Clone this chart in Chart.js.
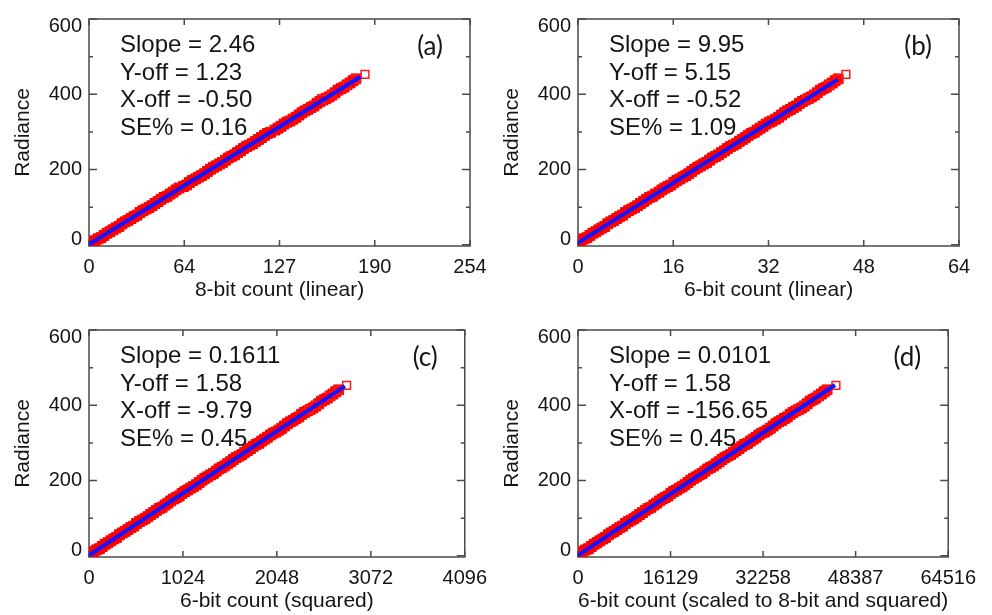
<!DOCTYPE html>
<html>
<head>
<meta charset="utf-8">
<script src="https://cdn.jsdelivr.net/npm/chart.js@4.4.1/dist/chart.umd.min.js"></script>
<style>
  html, body { margin: 0; padding: 0; background: #fff; }
  #wrap { position: relative; width: 992px; height: 615px; overflow: hidden; }
  .panel { position: absolute; width: 496px; height: 304px; }
</style>
</head>
<body>
<div id="wrap">
  <div class="panel" style="left:0;top:0"><canvas id="chartA" width="496" height="304"></canvas></div>
  <div class="panel" style="left:489px;top:0"><canvas id="chartB" width="496" height="304"></canvas></div>
  <div class="panel" style="left:0;top:311px"><canvas id="chartC" width="496" height="304"></canvas></div>
  <div class="panel" style="left:489px;top:311px"><canvas id="chartD" width="496" height="304"></canvas></div>
</div>
<script>
  // radiance of the sampled points (same for every panel)
  const radiance = [2, 11, 19, 31, 40, 49, 61, 70, 79, 91, 99, 110, 121, 129, 140, 151, 159, 171, 180, 189,
    201, 210, 219, 231, 239, 250, 261, 269, 280, 291, 299, 310, 321, 329, 339, 351, 360, 369, 381, 389,
    398, 411, 419, 430, 441];
  const radianceMid = [7, 16, 25, 35, 45, 56, 65, 75, 86, 95, 104, 115, 126, 135, 146, 155, 166, 175, 184, 195,
    206, 215, 225, 235, 245, 256, 265, 275, 285, 296, 305, 315, 326, 334, 345, 356, 365, 376, 385, 393,
    404, 415, 425, 436];
  const tailRadiance = [388, 400, 425, 440, 453];

  // counts per panel
  const countsA = [0, 4, 8, 12, 16, 20, 24, 28, 32, 36, 40, 44, 48, 52, 56, 60, 65, 69, 73, 77, 81, 85, 89, 93,
    97, 101, 105, 109, 113, 117, 121, 126, 130, 134, 138, 142, 146, 150, 154, 158, 162, 166, 170, 174, 178];
  const countsMidA = [2, 6, 10, 14, 18, 22, 26, 30, 34, 38, 42, 46, 50, 54, 58, 63, 67, 71, 75, 79, 83, 87, 91,
    95, 99, 103, 107, 111, 115, 119, 124, 128, 132, 136, 140, 144, 148, 152, 156, 160, 164, 168, 172, 176];
  const countsB = [0, 0.5, 1.5, 2.5, 3.5, 4.5, 5.5, 6.5, 7.5, 8.5, 9.5, 10.5, 11.5, 12.5, 13.6, 14.6, 15.6,
    16.6, 17.6, 18.6, 19.6, 20.6, 21.6, 22.6, 23.6, 24.6, 25.6, 26.6, 27.6, 28.6, 29.6, 30.6, 31.6, 32.6,
    33.7, 34.7, 35.7, 36.7, 37.7, 38.7, 39.7, 40.7, 41.7, 42.7, 43.7];
  const countsMidB = [0, 1, 2, 3, 4, 5, 6, 7, 8, 9, 10, 11, 12, 13, 14.1, 15.1, 16.1, 17.1, 18.1, 19.1, 20.1,
    21.1, 22.1, 23.1, 24.1, 25.1, 26.1, 27.1, 28.1, 29.1, 30.1, 31.1, 32.2, 33.2, 34.2, 35.2, 36.2, 37.2,
    38.2, 39.2, 40.2, 41.2, 42.2, 43.2];
  const countsC = [0, 52, 114, 176, 239, 301, 363, 425, 487, 549, 611, 673, 735, 797, 859, 921, 983, 1045,
    1107, 1170, 1232, 1294, 1356, 1418, 1480, 1542, 1604, 1666, 1728, 1790, 1852, 1914, 1977, 2039, 2101,
    2163, 2225, 2287, 2349, 2411, 2473, 2535, 2597, 2659, 2721];
  const countsMidC = [21, 83, 145, 207, 270, 332, 394, 456, 518, 580, 642, 704, 766, 828, 890, 952, 1014, 1076,
    1138, 1201, 1263, 1325, 1387, 1449, 1511, 1573, 1635, 1697, 1759, 1821, 1883, 1945, 2008, 2070, 2132,
    2194, 2256, 2318, 2380, 2442, 2504, 2566, 2628, 2690];
  const countsD = [0, 834, 1824, 2814, 3804, 4794, 5784, 6774, 7764, 8755, 9745, 10735, 11725, 12715, 13705,
    14695, 15685, 16675, 17666, 18656, 19646, 20636, 21626, 22616, 23606, 24596, 25586, 26576, 27567, 28557,
    29547, 30537, 31527, 32517, 33507, 34497, 35487, 36478, 37468, 38458, 39448, 40438, 41428, 42418, 43408];
  const countsMidD = [339, 1329, 2319, 3309, 4299, 5289, 6279, 7270, 8260, 9250, 10240, 11230, 12220, 13210,
    14200, 15190, 16180, 17171, 18161, 19151, 20141, 21131, 22121, 23111, 24101, 25091, 26081, 27071, 28062,
    29052, 30042, 31032, 32022, 33012, 34002, 34992, 35982, 36973, 37963, 38953, 39943, 40933, 41923, 42913];
  const tailA = [155, 162, 172, 178, 184];
  const tailB = [38.5, 39.7, 42.2, 43.7, 45.0];
  const tailC = [2399, 2473, 2628, 2721, 2808];
  const tailD = [38260, 39448, 41923, 43408, 44950];

  // fitted lines (end points)
  const fitA = { x: [0, 181], y: [1.23, 446.5] };
  const fitB = { x: [0, 43.6], y: [5.15, 439] };
  const fitC = { x: [0, 2790], y: [1.58, 451] };
  const fitD = { x: [0, 44800], y: [1.58, 454] };

  // axis ticks
  const yTicks = [0, 200, 400, 600];
  const yMinorTicks = [100, 300, 500];
  const xTicksA = [0, 63.5, 127, 190.5, 254];
  const xLabelsA = ['0', '64', '127', '190', '254'];
  const xTicksB = [0, 16, 32, 48, 64];
  const xLabelsB = ['0', '16', '32', '48', '64'];
  const xTicksC = [0, 1024, 2048, 3072, 4096];
  const xLabelsC = ['0', '1024', '2048', '3072', '4096'];
  const xTicksD = [0, 16129, 32258, 48387, 64516];
  const xLabelsD = ['0', '16129', '32258', '48387', '64516'];

  const statsA = ['Slope = 2.46', 'Y-off = 1.23', 'X-off = -0.50', 'SE% = 0.16'];
  const statsB = ['Slope = 9.95', 'Y-off = 5.15', 'X-off = -0.52', 'SE% = 1.09'];
  const statsC = ['Slope = 0.1611', 'Y-off = 1.58', 'X-off = -9.79', 'SE% = 0.45'];
  const statsD = ['Slope = 0.0101', 'Y-off = 1.58', 'X-off = -156.65', 'SE% = 0.45'];

  const TEXT = '#151515';
  const AXIS = '#4a4a4a';
  const RED = '#ff0000';
  const SANS = '"Liberation Sans", Arial, sans-serif';

  function pairs(xs, ys) {
    return xs.map((x, i) => ({ x: x, y: ys[i] }));
  }

  function makePanel(id, o) {
    const panelPlugin = {
      id: 'panel_' + id,
      beforeDraw(chart) {
        // IDL keeps the end labels of the y axis inside the frame
        const items = chart.scales.y.getLabelItems();
        if (items && items.length) {
          items[0].options.translation[1] -= 5;
          items[items.length - 1].options.translation[1] += 7;
        }
      },
      beforeDatasetsDraw(chart) {
        const { ctx, chartArea: a, scales: { x, y } } = chart;
        ctx.save();
        ctx.strokeStyle = AXIS;
        ctx.lineWidth = 1.5;
        ctx.strokeRect(a.left, a.top, a.right - a.left, a.bottom - a.top);
        ctx.beginPath();
        yTicks.forEach(v => {
          const py = y.getPixelForValue(v);
          ctx.moveTo(a.left, py); ctx.lineTo(a.left + 8, py);
          ctx.moveTo(a.right, py); ctx.lineTo(a.right - 8, py);
        });
        yMinorTicks.forEach(v => {
          const py = y.getPixelForValue(v);
          ctx.moveTo(a.left, py); ctx.lineTo(a.left + 4, py);
          ctx.moveTo(a.right, py); ctx.lineTo(a.right - 4, py);
        });
        x.ticks.forEach(t => {
          const px = x.getPixelForValue(t.value);
          ctx.moveTo(px, a.bottom); ctx.lineTo(px, a.bottom - 6);
          ctx.moveTo(px, a.top); ctx.lineTo(px, a.top + 6);
        });
        ctx.stroke();
        ctx.restore();
      },
      afterDatasetsDraw(chart) {
        const { ctx, chartArea: a } = chart;
        ctx.save();
        ctx.fillStyle = TEXT;
        ctx.textAlign = 'left';
        ctx.textBaseline = 'alphabetic';
        ctx.font = '24px ' + SANS;
        o.stats.forEach((s, i) => ctx.fillText(s, a.left + 31, a.top + 33 + i * 27.7));
        ctx.textAlign = 'right';
        ctx.font = '26px Lato, "Open Sans", sans-serif';
        ctx.fillText(o.tag, a.right - 27, a.top + 36);
        ctx.restore();
      }
    };

    const band = {
      pointStyle: 'rect',
      pointRadius: 7,
      backgroundColor: RED,
      borderColor: RED,
      borderWidth: 1,
      clip: 0,
      order: 3
    };

    return new Chart(document.getElementById(id), {
      type: 'scatter',
      data: {
        datasets: [
          Object.assign({ data: pairs(o.counts, radiance) }, band),
          Object.assign({ data: pairs(o.mid, radianceMid) }, band),
          {
            data: pairs(o.tail, tailRadiance),
            pointStyle: 'rect',
            pointRadius: 5.5,
            backgroundColor: 'rgba(255,255,255,0)',
            borderColor: '#ff1a1a',
            borderWidth: 1.5,
            clip: 0,
            order: 2
          },
          {
            type: 'line',
            data: pairs(o.fit.x, o.fit.y),
            borderColor: '#1414ff',
            borderWidth: 4,
            pointRadius: 0,
            showLine: true,
            clip: 0,
            order: 0
          }
        ]
      },
      options: {
        responsive: false,
        animation: false,
        events: [],
        layout: { padding: { left: 0, right: 26, top: 15, bottom: 0 } },
        plugins: { legend: { display: false }, tooltip: { enabled: false } },
        scales: {
          x: {
            type: 'linear',
            min: 0,
            max: o.xTicks[o.xTicks.length - 1],
            grid: { display: false, drawTicks: false },
            border: { display: false },
            afterBuildTicks: s => { s.ticks = o.xTicks.map(v => ({ value: v })); },
            afterFit: s => { s.height = 58; },
            ticks: {
              autoSkip: false,
              maxRotation: 0,
              padding: 9,
              color: TEXT,
              font: { family: SANS, size: 20 },
              callback: (v, i) => o.xLabels[i]
            },
            title: {
              display: true,
              text: o.xTitle,
              color: TEXT,
              font: { family: SANS, size: 21 },
              padding: { top: 0, bottom: 1 }
            }
          },
          y: {
            min: -3,
            max: 600,
            grid: { display: false, drawTicks: false },
            border: { display: false },
            afterBuildTicks: s => { s.ticks = yTicks.map(v => ({ value: v })); },
            afterFit: s => { s.width = 89; },
            ticks: {
              autoSkip: false,
              padding: 7,
              color: TEXT,
              font: { family: SANS, size: 20 }
            },
            title: {
              display: true,
              text: 'Radiance',
              color: TEXT,
              font: { family: SANS, size: 21 },
              padding: { top: 11, bottom: 0 }
            }
          }
        }
      },
      plugins: [panelPlugin]
    });
  }

  makePanel('chartA', { counts: countsA, mid: countsMidA, tail: tailA, fit: fitA, xTicks: xTicksA,
    xLabels: xLabelsA, xTitle: '8-bit count (linear)', stats: statsA, tag: '(a)' });
  makePanel('chartB', { counts: countsB, mid: countsMidB, tail: tailB, fit: fitB, xTicks: xTicksB,
    xLabels: xLabelsB, xTitle: '6-bit count (linear)', stats: statsB, tag: '(b)' });
  makePanel('chartC', { counts: countsC, mid: countsMidC, tail: tailC, fit: fitC, xTicks: xTicksC,
    xLabels: xLabelsC, xTitle: '6-bit count (squared)', stats: statsC, tag: '(c)' });
  makePanel('chartD', { counts: countsD, mid: countsMidD, tail: tailD, fit: fitD, xTicks: xTicksD,
    xLabels: xLabelsD, xTitle: '6-bit count (scaled to 8-bit and squared)', stats: statsD, tag: '(d)' });
</script>
</body>
</html>
